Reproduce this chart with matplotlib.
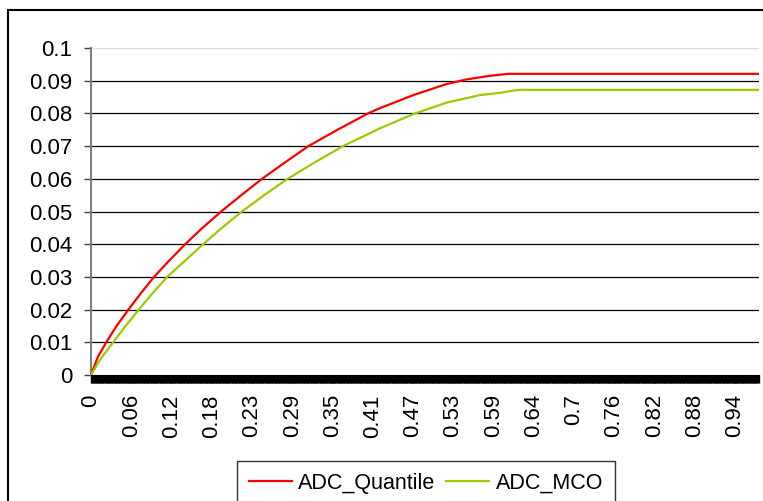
import numpy as np
import matplotlib
matplotlib.use('Agg')
import matplotlib.pyplot as plt
from matplotlib.patches import Rectangle

plt.rcParams['font.family'] = ['Liberation Sans', 'DejaVu Sans']

# values
quant_x = [0, 0.010, 0.022, 0.037, 0.054, 0.072, 0.091, 0.113, 0.136, 0.161, 0.188, 0.217,
           0.247, 0.280, 0.314, 0.356, 0.400, 0.417, 0.4655, 0.5136, 0.5425, 0.576, 0.6026, 0.965]
quant_y = [0, 0.0056, 0.01, 0.015, 0.02, 0.025, 0.03, 0.035, 0.04, 0.045, 0.05, 0.055,
           0.06, 0.065, 0.07, 0.075, 0.08, 0.0816, 0.0856, 0.0890, 0.0904, 0.0915, 0.0921, 0.0921]
mco_x = [0, 0.014, 0.032, 0.050, 0.069, 0.089, 0.110, 0.136, 0.162, 0.189, 0.218, 0.250,
         0.284, 0.323, 0.364, 0.417, 0.4655, 0.5136, 0.5617, 0.5906, 0.6171, 0.965]
mco_y = [0, 0.005, 0.01, 0.015, 0.02, 0.025, 0.03, 0.035, 0.04, 0.045, 0.05, 0.055,
         0.06, 0.065, 0.07, 0.0754, 0.0798, 0.0833, 0.0856, 0.0863, 0.0872, 0.0872]

xtick_labels = ['0', '0.06', '0.12', '0.18', '0.23', '0.29', '0.35', '0.41', '0.47',
                '0.53', '0.59', '0.64', '0.7', '0.76', '0.82', '0.88', '0.94']
ytick_vals = [0, 0.01, 0.02, 0.03, 0.04, 0.05, 0.06, 0.07, 0.08, 0.09, 0.1]
ytick_labels = ['0', '0.01', '0.02', '0.03', '0.04', '0.05', '0.06', '0.07', '0.08', '0.09', '0.1']

W, H = 763, 501
fig = plt.figure(figsize=(W / 100, H / 100), dpi=100)
ax = fig.add_axes([91 / W, 1 - 375 / H, (759 - 91) / W, (375 - 48) / H])

# grid lines
for v in ytick_vals[1:-1]:
    ax.axhline(v, color='black', lw=0.9, zorder=1)
ax.axhline(0.1, color='#dddddd', lw=0.9, zorder=1)

ax.plot(quant_x, quant_y, color='#ff0000', lw=1.6, label='ADC_Quantile', zorder=3)
ax.plot(mco_x, mco_y, color='#99cc00', lw=1.6, label='ADC_MCO', zorder=3)

ax.set_xlim(0, (759 - 91) / 692.5)
ax.set_ylim(0, 0.1)

step = 0.0581
ax.set_xticks([i * step for i in range(len(xtick_labels))])
ax.set_xticklabels(xtick_labels, rotation=90, fontsize=16)
ax.set_xticks(np.arange(0, 0.965, 0.001), minor=True)
ax.tick_params(axis='x', which='major', length=5.8, width=1, color='black', pad=8)
ax.tick_params(axis='x', which='minor', length=5.8, width=1, color='black')

ax.set_yticks(ytick_vals)
ax.set_yticklabels(ytick_labels, fontsize=16)
ax.tick_params(axis='y', length=5, width=1, color='#404040', pad=8.5)

for s in ['top', 'right']:
    ax.spines[s].set_visible(False)
ax.spines['left'].set_color('#808080')
ax.spines['left'].set_linewidth(1.5)
ax.spines['bottom'].set_color('black')

leg = ax.legend(loc='upper left', bbox_to_anchor=(237 / W, 1 - 461 / H),
                bbox_transform=fig.transFigure, ncol=2, fontsize=15.5,
                frameon=True, fancybox=False, handlelength=2.0, handletextpad=0.3,
                columnspacing=0.5, borderpad=0.55, borderaxespad=0)
leg.get_frame().set_edgecolor('black')
leg.get_frame().set_linewidth(1)

# outer chart border
fig.patches.append(Rectangle((8 / W, -0.05), 1.1, 1 - 10 / H + 0.05,
                             transform=fig.transFigure, fill=False,
                             edgecolor='black', lw=1.5))

plt.savefig('out.png', dpi=100)
